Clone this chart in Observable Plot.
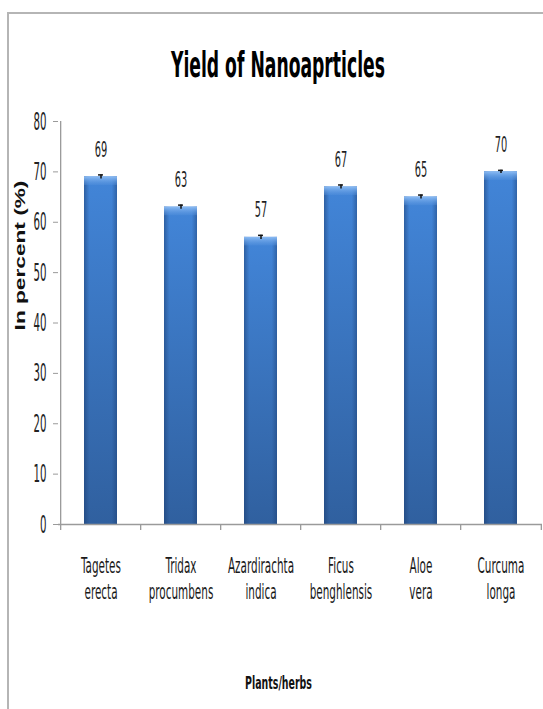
<!DOCTYPE html>
<html><head><meta charset="utf-8">
<script src="https://cdn.jsdelivr.net/npm/d3@7"></script>
<script src="https://cdn.jsdelivr.net/npm/@observablehq/plot@0.6"></script>
<style>
body{margin:0;background:#fff}
#page{position:relative;width:543px;height:709px;overflow:hidden;background:#fff}
#frame{position:absolute;left:7px;top:12px;width:560px;height:720px;border-left:2px solid #b5b5b5;border-top:2px solid #b5b5b5;z-index:2;pointer-events:none}
#title{position:absolute;left:0;top:48px;width:556px;text-align:center;font-family:"Liberation Sans Narrow","DejaVu Sans Condensed",sans-serif;font-weight:bold;font-size:35px;line-height:35px;color:#000;white-space:nowrap}
#title span{display:inline-block}
#chart{position:absolute;left:0;top:100px}
</style></head>
<body><div id="page"><div id="chart"></div><div id="title"><span id="titleText"></span></div><div id="frame"></div></div>
<script>
const chartTitle = "Yield of Nanoaprticles";
const xTitle = "Plants/herbs";
const yTitle = "In percent (%)";
const plants = ["Tagetes\nerecta", "Tridax\nprocumbens", "Azardirachta\nindica", "Ficus\nbenghlensis", "Aloe\nvera", "Curcuma\nlonga"];
const yields = [69, 63, 57, 67, 65, 70];
const errors = [0.4, 0.4, 0.4, 0.4, 0.4, 0.3];
const yTicks = [0, 10, 20, 30, 40, 50, 60, 70, 80];

const data = plants.map((p, i) => ({plant: p, value: yields[i], err: errors[i]}));

document.getElementById("titleText").textContent = chartTitle;

const W = 543, H = 609, mL = 58, mR = 1, mT = 21, mB = 185;
const pInner = 0.59, pOuter = 0.295;
const step = (W - mL - mR) / plants.length;
const bw = step * (1 - pInner);
const capInset = bw / 2 - 2.5;
const narrow = '"Liberation Sans Narrow","DejaVu Sans Condensed",sans-serif';
const axisColor = "#9a9a9a";

const svg = Plot.plot({
  width: W, height: H,
  marginLeft: mL, marginRight: mR, marginTop: mT, marginBottom: mB,
  style: {fontFamily: narrow, background: "transparent"},
  x: {domain: plants, paddingInner: pInner, paddingOuter: pOuter, axis: null},
  y: {domain: [0, 80], axis: null},
  marks: [
    Plot.barY(data, {x: "plant", y: "value", fill: "url(#barV)"}),
    Plot.barY(data, {x: "plant", y: "value", fill: "url(#barH)"}),
    Plot.barY(data, {x: "plant", y1: d => d.value - 1.7, y2: "value", fill: "url(#bevel)"}),
    Plot.ruleY([0], {stroke: axisColor, strokeWidth: 1.3}),
    Plot.ruleX([plants[0]], {x: d => d, dx: -step / 2, y1: 0, y2: 80, stroke: axisColor, strokeWidth: 1.3}),
    Plot.ruleX(data, {x: "plant", dx: -step / 2, y1: 0, y2: -1.2, stroke: axisColor, strokeWidth: 1.3}),
    Plot.ruleX([plants[plants.length - 1]], {x: d => d, dx: step / 2, y1: 0, y2: -1.2, stroke: axisColor, strokeWidth: 1.3}),
    Plot.axisY({ticks: yTicks, tickSize: 5, tickPadding: 7, stroke: axisColor, fill: "#222", fontSize: 25, label: null}),
    Plot.ruleX(data, {x: "plant", y1: d => d.value - d.err, y2: d => d.value + d.err, stroke: "#111", strokeWidth: 1.5}),
    Plot.tickY(data, {x: "plant", y: d => d.value + d.err, insetLeft: capInset, insetRight: capInset, stroke: "#111", strokeWidth: 1.5}),
    Plot.text(data, {x: "plant", y: "value", text: d => String(d.value), dy: -20, lineAnchor: "bottom", fontSize: 22, fill: "#1f1f1f"}),
    Plot.text(data, {x: "plant", y: 0, text: "plant", dy: 30, lineAnchor: "top", lineHeight: 1.18, fontSize: 22, fill: "#1a1a1a"}),
    Plot.text([yTitle], {frameAnchor: "left", textAnchor: "middle", dx: -38, dy: -67.5, rotate: -90, fontSize: 14, fontWeight: "bold", fontFamily: '"Liberation Sans",Arial,sans-serif', fill: "#111"}),
    Plot.text([xTitle], {frameAnchor: "bottom", textAnchor: "middle", dx: -22, dy: 164, lineAnchor: "bottom", fontSize: 18, fontWeight: "bold", fill: "#111"})
  ]
});
document.getElementById("chart").appendChild(svg);

// gradients
const defs = d3.select(svg).insert("defs", ":first-child");
const g1 = defs.append("linearGradient").attr("id", "barV").attr("x1", 0).attr("y1", 0).attr("x2", 0).attr("y2", 1);
g1.append("stop").attr("offset", 0).attr("stop-color", "#4285d8");
g1.append("stop").attr("offset", 1).attr("stop-color", "#30609f");
const g2 = defs.append("linearGradient").attr("id", "barH").attr("x1", 0).attr("y1", 0).attr("x2", 1).attr("y2", 0);
g2.append("stop").attr("offset", 0).attr("stop-color", "#1a3b6e").attr("stop-opacity", 0.5);
g2.append("stop").attr("offset", 0.16).attr("stop-color", "#1a3b6e").attr("stop-opacity", 0);
g2.append("stop").attr("offset", 0.84).attr("stop-color", "#1a3b6e").attr("stop-opacity", 0);
g2.append("stop").attr("offset", 1).attr("stop-color", "#1a3b6e").attr("stop-opacity", 0.45);
const g3 = defs.append("linearGradient").attr("id", "bevel").attr("x1", 0).attr("y1", 0).attr("x2", 0).attr("y2", 1);
g3.append("stop").attr("offset", 0).attr("stop-color", "#8cbcf4");
g3.append("stop").attr("offset", 1).attr("stop-color", "#5a95de").attr("stop-opacity", 0.3);

// horizontal squeeze of text to mimic the condensed look of the original
function squeeze(el, sx) {
  if (!isFinite(sx) || sx <= 0) return;
  const t = el.getAttribute("transform") || "";
  let x = parseFloat(el.getAttribute("x"));
  if (!isFinite(x)) x = 0;
  el.setAttribute("transform", `${t} translate(${x},0) scale(${sx},1) translate(${-x},0)`.trim());
}
function len(el) { return el.getComputedTextLength(); }

const textGroups = svg.querySelectorAll('g[aria-label="text"]');
const [vGroup, xGroup, ytGroup, xtGroup] = textGroups;
const yTickTexts = svg.querySelectorAll('g[aria-label="y-axis tick label"] text');

// value labels
{
  const texts = [...vGroup.querySelectorAll("text")];
  const ref = texts.find(t => t.textContent === "63") || texts[0];
  const s = 12.5 / len(ref);
  texts.forEach(t => squeeze(t, s));
}
// category labels
{
  const texts = [...xGroup.querySelectorAll("text")];
  let measured = 0;
  texts.forEach(t => {
    const first = t.querySelector("tspan") || t;
    if (first.textContent === "Tagetes" || first.textContent === "Azardirachta") measured += len(first);
  });
  const s = measured > 0 ? 106 / measured : 0.6;
  texts.forEach(t => squeeze(t, s));
}
// y tick labels
{
  const texts = [...yTickTexts];
  const ref = texts.find(t => t.textContent === "80") || texts[texts.length - 1];
  const s = 13 / len(ref);
  texts.forEach(t => squeeze(t, s));
}
// y title (rotated; stretched along its length)
{
  const t = ytGroup.querySelector("text");
  squeeze(t, 150 / len(t));
}
// x title
{
  const t = xtGroup.querySelector("text");
  squeeze(t, 67 / len(t));
}
// chart title
{
  const span = document.getElementById("titleText");
  const w = span.getBoundingClientRect().width;
  span.style.transform = `scaleX(${214 / w})`;
}
</script>
</body></html>
